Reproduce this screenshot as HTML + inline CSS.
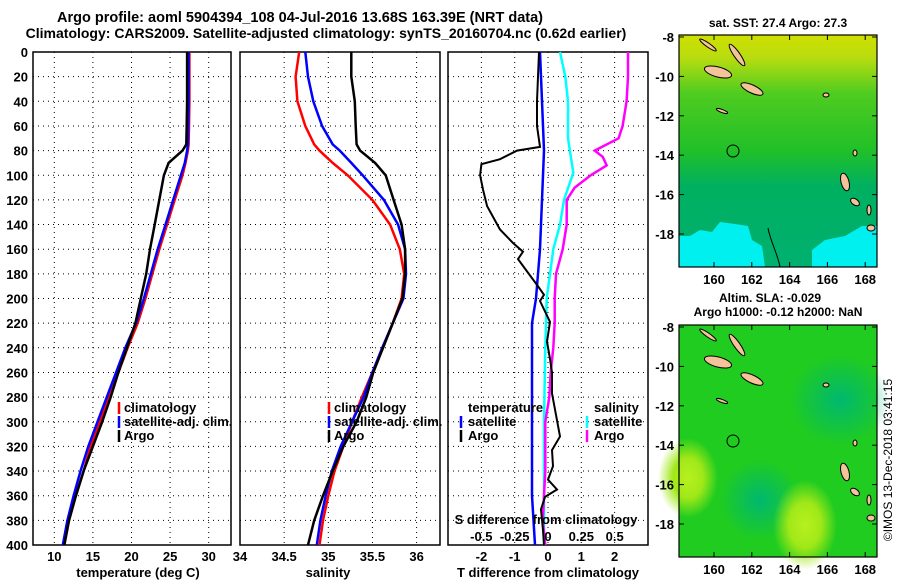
<!DOCTYPE html>
<html><head><meta charset="utf-8"><style>
body{margin:0;background:#fff;}
svg{display:block;font-family:"Liberation Sans",sans-serif;font-weight:bold;}
</style></head><body>
<svg id="chart" width="900" height="580" viewBox="0 0 900 580">
<defs>
<linearGradient id="sstg" x1="0" y1="0" x2="0" y2="1">
<stop offset="0" stop-color="#d0e000"/><stop offset="0.1" stop-color="#b8dc10"/><stop offset="0.25" stop-color="#50cc20"/><stop offset="0.5" stop-color="#20c028"/><stop offset="0.65" stop-color="#00b060"/><stop offset="1" stop-color="#00b070"/>
</linearGradient>
<radialGradient id="yg1"><stop offset="0" stop-color="#b8f020"/><stop offset="0.5" stop-color="#a0e818"/><stop offset="1" stop-color="#a0e818" stop-opacity="0"/></radialGradient>
<radialGradient id="tg1"><stop offset="0" stop-color="#00b870"/><stop offset="1" stop-color="#00b870" stop-opacity="0"/></radialGradient>
</defs>
<text x="300" y="22" text-anchor="middle" font-size="14.5">Argo profile: aoml 5904394_108 04-Jul-2016 13.68S 163.39E (NRT data)</text>
<text x="326" y="38" text-anchor="middle" font-size="14">Climatology: CARS2009. Satellite-adjusted climatology: synTS_20160704.nc (0.62d earlier)</text>
<g id="panels"></g>
<g id="maps"></g>
<text transform="translate(892,460) rotate(-90)" text-anchor="middle" font-size="12" font-weight="normal">©IMOS 13-Dec-2018 03:41:15</text>
</svg>
<script>
const depths=[0,20,40,60,75,80,90,100,120,140,160,180,200,220,240,260,280,300,320,340,360,380,400];
const tClim=[27.5,27.5,27.5,27.45,27.4,27.3,27.0,26.6,25.6,24.6,23.6,22.7,21.8,20.8,19.5,18.3,17.0,15.9,14.7,13.8,12.8,11.9,11.3];
const tSat=[27.4,27.4,27.4,27.35,27.3,27.2,26.9,26.4,25.4,24.4,23.4,22.5,21.6,20.6,19.2,18.0,16.8,15.6,14.4,13.4,12.5,11.7,11.1];
const tArgo=[27.2,27.2,27.2,27.15,27.1,26.6,24.8,24.2,23.6,23.0,22.4,21.9,21.2,20.5,19.4,18.3,17.3,16.2,15.0,13.8,12.8,11.9,11.3];
const sClim=[34.67,34.63,34.65,34.74,34.84,34.9,35.05,35.22,35.5,35.7,35.81,35.86,35.83,35.73,35.62,35.5,35.38,35.27,35.17,35.07,35.0,34.94,34.9];
const sSat=[34.74,34.77,34.83,34.93,35.05,35.13,35.26,35.39,35.63,35.79,35.87,35.88,35.85,35.73,35.61,35.5,35.4,35.27,35.14,35.04,34.97,34.91,34.87];
const sArgo=[35.26,35.26,35.3,35.31,35.32,35.36,35.53,35.65,35.74,35.83,35.87,35.87,35.84,35.73,35.62,35.51,35.43,35.32,35.17,35.05,34.94,34.84,34.77];
const dDepths=[0,40,60,77,80,87,91,100,112,125,144,155,162,168,178,189,197,202,219,235,249,260,277,312,323,336,347,355,361,371,388,400];
const dtArgo=[-0.27,-0.33,-0.33,-0.24,-0.93,-1.44,-2.0,-2.04,-1.95,-1.83,-1.44,-1.05,-0.75,-0.9,-0.63,-0.33,-0.12,-0.24,0.06,-0.03,0.06,0.12,0.12,0.36,0.12,0.15,0.0,0.27,-0.09,-0.21,-0.15,-0.12];
const dtSatD=[0,80,120,160,200,220,270,360,400];
const dtSat=[-0.24,-0.12,-0.18,-0.24,-0.36,-0.48,-0.48,-0.48,-0.39];
const dsD=[0,20,40,70,98,120,140,160,200,240,300,400];
const dsSat=[0.09,0.13,0.15,0.15,0.19,0.12,0.09,0.04,-0.01,-0.02,-0.03,-0.03];
const dsArgoD=[0,20,40,60,70,80,85,92,100,110,120,140,160,180,200,220,240,260,280,300,340,380,400];
const dsArgo=[0.6,0.6,0.59,0.56,0.53,0.35,0.41,0.44,0.32,0.2,0.14,0.14,0.11,0.06,0.05,0.05,0.04,0.02,0.01,-0.02,-0.02,-0.04,-0.02];
const yTicks=[0,20,40,60,80,100,120,140,160,180,200,220,240,260,280,300,320,340,360,380,400];

const NS="http://www.w3.org/2000/svg";
const G=document.getElementById('panels');
function el(tag,attrs,parent){const e=document.createElementNS(NS,tag);for(const k in attrs)e.setAttribute(k,attrs[k]);(parent||G).appendChild(e);return e;}
function yD(d){return 52+d*493/400;}
function poly(xs,ds,fx,color,w,name){
  const pts=xs.map((v,i)=>fx(v).toFixed(1)+','+yD(ds[i]).toFixed(1)).join(' ');
  const p=el('polyline',{points:pts,fill:'none',stroke:color,'stroke-width':w});
  
  
}
function txt(x,y,s,anchor,size,name){const t=el('text',{x:x,y:y,'text-anchor':anchor||'start','font-size':size||13});t.textContent=s;return t;}
function panel(x0,x1,gx,name){
  const r=el('rect',{x:x0,y:52,width:x1-x0,height:493,fill:'#fff',stroke:'#000','stroke-width':1.5});
  
  
  yTicks.forEach(d=>{if(d>0&&d<400)el('line',{x1:x0,x2:x1,y1:yD(d),y2:yD(d),stroke:'#000','stroke-dasharray':'1,4','stroke-width':1});});
  gx.forEach(x=>el('line',{x1:x,x2:x,y1:52,y2:545,stroke:'#000','stroke-dasharray':'1,4','stroke-width':1}));
}
// panel 1
const xT=t=>54.3+(t-10)*7.72;
const tt=[10,15,20,25,30];
panel(33,231,tt.map(xT),'temperature-panel');
yTicks.forEach(d=>txt(28,yD(d)+5,String(d),'end',13,'depth-tick-label'));
tt.forEach(t=>txt(xT(t),561,String(t),'middle',13,'temp-tick-label'));
txt(138,577,'temperature (deg C)','middle',13,'temp-axis-title');
poly(tClim,depths,xT,'#f00',2.5,'temp-climatology-line');
poly(tSat,depths,xT,'#00f',2.5,'temp-satellite-line');
poly(tArgo,depths,xT,'#000',2.5,'temp-argo-line');
[['#f00','climatology'],['#00f','satellite-adj. clim.'],['#000','Argo']].forEach((l,i)=>{
  el('line',{x1:119,x2:119,y1:402+i*14,y2:414+i*14,stroke:l[0],'stroke-width':2.5});
  txt(124,412+i*14,l[1],'start',13,'temp-legend-entry');
});
// panel 2
const xS=s=>240+(s-34)*88.3;
const st=[34,34.5,35,35.5,36];
panel(240,440,st.slice(1).map(xS),'salinity-panel');
st.forEach(s=>txt(xS(s),561,String(s),'middle',13,'sal-tick-label'));
txt(328,577,'salinity','middle',13,'sal-axis-title');
poly(sClim,depths,xS,'#f00',2.5,'sal-climatology-line');
poly(sSat,depths,xS,'#00f',2.5,'sal-satellite-line');
poly(sArgo,depths,xS,'#000',2.5,'sal-argo-line');
[['#f00','climatology'],['#00f','satellite-adj. clim.'],['#000','Argo']].forEach((l,i)=>{
  el('line',{x1:329,x2:329,y1:402+i*14,y2:414+i*14,stroke:l[0],'stroke-width':2.5});
  txt(334,412+i*14,l[1],'start',13,'sal-legend-entry');
});
// panel 3
const xDT=v=>548+v*33.3;
const xDS=v=>548+v*133.3;
const dt=[-2,-1,0,1,2];
panel(448,648,dt.map(xDT),'difference-panel');
poly(dtSat,dtSatD,xDT,'#00f',2.5,'tdiff-satellite-line');
poly(dsSat,dsD,xDS,'#0ff',2.5,'sdiff-satellite-line');
poly(dsArgo,dsArgoD,xDS,'#f0f',2.5,'sdiff-argo-line');
poly(dtArgo,dDepths,xDT,'#000',2,'tdiff-argo-line');
dt.forEach(v=>txt(xDT(v),561,String(v),'middle',13,'tdiff-tick-label'));
[-0.5,-0.25,0,0.25,0.5].forEach(v=>txt(xDS(v),541,String(v),'middle',13,'sdiff-tick-label'));
txt(546,524,'S difference from climatology','middle',13,'sdiff-axis-title');
txt(548,577,'T difference from climatology','middle',13,'tdiff-axis-title');
txt(468,412,'temperature','start',13,'legend-temperature-header');
[['#00f','satellite'],['#000','Argo']].forEach((l,i)=>{
  el('line',{x1:461,x2:461,y1:416+i*14,y2:428+i*14,stroke:l[0],'stroke-width':2.5});
  txt(468,426+i*14,l[1],'start',13,'tdiff-legend-entry');
});
txt(594,412,'salinity','start',13,'legend-salinity-header');
[['#0ff','satellite'],['#f0f','Argo']].forEach((l,i)=>{
  el('line',{x1:587,x2:587,y1:416+i*14,y2:428+i*14,stroke:l[0],'stroke-width':2.5});
  txt(594,426+i*14,l[1],'start',13,'sdiff-legend-entry');
});

// maps
const M=document.getElementById('maps');
function mel(tag,attrs,parent){return el(tag,attrs,parent||M);}
const lonTicks=[160,162,164,166,168];
const latTicks=[-8,-10,-12,-14,-16,-18];
const xL=l=>714+(l-160)*18.9;
function islands(g,oy){
  [[718,72,14,5,15],[737,55,3,13,-35],[752,89,12,4,25],[708,45,10,2,35],[722,111,6,1.5,20],[845,182,4,9,-15],[855,202,5,3,35],[871,228,4,3,0],[826,95,3,2,0],[855,153,2,3,0],[869,210,2,5,0]].forEach(a=>{
    const e=mel('ellipse',{cx:a[0],cy:a[1]+oy,rx:a[2],ry:a[3],fill:'#f5c39a',stroke:'#000','stroke-width':1,transform:`rotate(${a[4]} ${a[0]} ${a[1]+oy})`},g);
    
    
  });
}
function mapFrame(oy,name){
  const g=mel('g',{});
  
  
  return g;
}
function axes(g,oy){
  mel('rect',{x:679,y:35+oy,width:198,height:232,fill:'none',stroke:'#000','stroke-width':1.2},g);
  const yLat=la=>37+oy+(-8-la)*19.7;
  latTicks.forEach(la=>{
    mel('line',{x1:679,x2:684,y1:yLat(la),y2:yLat(la),stroke:'#000'},g);
    mel('line',{x1:872,x2:877,y1:yLat(la),y2:yLat(la),stroke:'#000'},g);
    const t=txt(674,yLat(la)+5,String(la),'end',13,'map-lat-label');g.appendChild(t);
  });
  lonTicks.forEach(l=>{
    mel('line',{x1:xL(l),x2:xL(l),y1:35+oy,y2:40+oy,stroke:'#000'},g);
    mel('line',{x1:xL(l),x2:xL(l),y1:262+oy,y2:267+oy,stroke:'#000'},g);
    const t=txt(xL(l),284+oy,String(l),'middle',13,'map-lon-label');g.appendChild(t);
  });
  const c=mel('circle',{cx:733,cy:151+oy,r:6,fill:'none',stroke:'#000','stroke-width':1},g);
  
  
}
// top SST map
const g1=mapFrame(0,'sst-map');
mel('rect',{x:679,y:35,width:198,height:232,fill:'url(#sstg)'},g1);
mel('path',{d:'M679,267 L679,236 L690,236 L700,230 L712,232 L720,222 L735,224 L748,226 L752,240 L762,246 L765,267 Z',fill:'#00f0f0'},g1);
mel('path',{d:'M812,267 L812,250 L825,240 L845,236 L862,226 L877,226 L877,267 Z',fill:'#00f0f0'},g1);
mel('path',{d:'M768,228 C770,240 778,255 780,267',fill:'none',stroke:'#000'},g1);
islands(g1,0);
axes(g1,0);
txt(778,27,'sat. SST: 27.4 Argo: 27.3','middle',12,'sst-map-title');
// bottom SLA map
const g2=mapFrame(290,'sla-map');
mel('rect',{x:679,y:325,width:198,height:232,fill:'#20cc20'},g2);
mel('ellipse',{cx:840,cy:400,rx:50,ry:45,fill:'url(#tg1)'},g2);
mel('ellipse',{cx:760,cy:500,rx:40,ry:40,fill:'url(#tg1)'},g2);
mel('ellipse',{cx:688,cy:478,rx:30,ry:40,fill:'url(#yg1)'},g2);
mel('ellipse',{cx:805,cy:525,rx:32,ry:45,fill:'url(#yg1)'},g2);
islands(g2,290);
axes(g2,290);
txt(770,302,'Altim. SLA: -0.029','middle',12,'sla-map-title');
txt(778,316,'Argo h1000: -0.12 h2000: NaN','middle',12,'sla-map-subtitle');
</script>
</body></html>
